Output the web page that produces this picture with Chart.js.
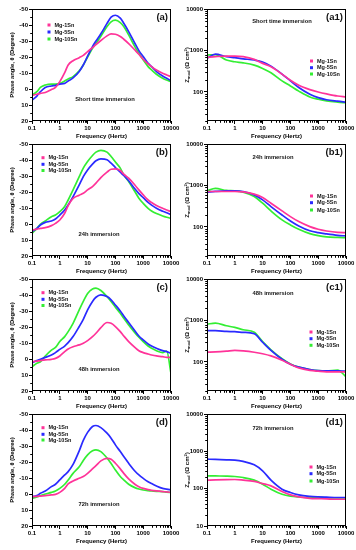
<!DOCTYPE html>
<html><head><meta charset="utf-8">
<script src="https://cdn.jsdelivr.net/npm/chart.js@4/dist/chart.umd.min.js"></script>
<style>
html,body{margin:0;padding:0;background:#fff;}
#wrap{position:relative;width:356px;height:550px;overflow:hidden;background:#fff;}
canvas{position:absolute;}
</style></head><body><div id="wrap"></div>
<script>
// ---------- DATA ----------
const seriesNames = ['Mg-1Sn', 'Mg-5Sn', 'Mg-10Sn'];
const freqPhase = [0.1,0.15,0.2,0.3,0.5,0.7,1,1.5,2,3,5,7,10,15,20,30,50,70,100,150,200,300,500,700,1000,1500,2000,3000,5000,7000,10000];
const freqZ = [0.1,0.2,0.5,1,2,5,10,20,50,100,200,500,1000,2000,5000,10000];
const xTickValues = [0.1, 1, 10, 100, 1000, 10000];
const phaseTickValues = [-50, -40, -30, -20, -10, 0, 10, 20];

// (a) short time
const phaseA_1Sn  = [4,3.3,2.7,2.2,0.3,-1,-4.6,-10.2,-15,-17.7,-19.6,-21,-23.4,-25.9,-27.8,-30.3,-33.2,-34.4,-34.2,-32.8,-31.1,-28.4,-24.4,-21.7,-18.6,-15.7,-14,-11.9,-9.8,-8.8,-7.7];
const phaseA_5Sn  = [7,4.4,1.7,-1,-1.9,-2.3,-3.1,-3.5,-5,-7,-11,-15,-20.5,-26.5,-30,-34.5,-41,-44.9,-46.1,-44.3,-41.1,-35.9,-28.6,-24,-20.3,-16,-14,-10.9,-8.1,-6.7,-5.2];
const phaseA_10Sn = [3.8,1.7,-1,-2.5,-3.1,-3.1,-3.5,-5,-6.3,-7.7,-11.3,-15,-20,-25.5,-28.5,-33,-39,-42,-43,-41.5,-39,-33.8,-26.5,-22.3,-18.2,-14,-11.9,-9.2,-6.7,-5.6,-4.6];
const zA_1Sn  = [680,710,735,735,710,610,490,405,270,192,145,114,100,90,80,76];
const zA_5Sn  = [645,820,710,670,630,590,530,420,270,185,128,88,73,65,60,57];
const zA_10Sn = [780,790,590,535,505,445,370,290,185,140,105,76,67,61,57,55];
// (b) 24 h
const phaseB_1Sn  = [3.8,3.2,2.7,2.3,1,-0.4,-2.5,-6.7,-11.5,-16,-18,-19.2,-21.3,-23.4,-25.5,-29,-32.4,-34.2,-34.4,-33.4,-31.1,-28.6,-24.4,-21.3,-18.2,-15,-13.4,-11.5,-9.8,-8.8,-7.7];
const phaseB_5Sn  = [4.8,2.7,0.6,-1,-1.9,-3.1,-5.6,-8.8,-11.9,-17.1,-24.4,-29.6,-33.8,-37.4,-39.5,-40.7,-40.1,-38,-35.3,-32.4,-30.3,-27,-22,-19,-16.5,-13.5,-11.8,-9.8,-8,-7,-5.8];
const phaseB_10Sn = [5.8,2.7,0.2,-1.9,-4.6,-5.6,-7.7,-10.9,-15,-21.3,-29.6,-34.9,-39,-42.8,-44.9,-46,-44.9,-42.2,-38.7,-34.9,-30.7,-26.5,-20.3,-16.1,-12.9,-9.8,-8.1,-6.5,-5,-4.2,-3.5];
const zB_1Sn  = [716,716,716,716,700,620,513,374,244,178,135,102,88,80,74,73];
const zB_5Sn  = [690,720,743,743,716,594,450,311,195,140,106,81,73,68,63,61];
const zB_10Sn = [740,850,760,743,690,542,374,244,148,112,88,69,62,58,56,55];
// (c) 48 h
const phaseC_1Sn  = [1.7,1.3,1,0.6,0.2,-0.4,-1.9,-4.6,-6.3,-7.7,-8.8,-9.8,-11.5,-14,-16.1,-19.6,-22.8,-22.3,-20.3,-17.1,-14.4,-10.9,-7.3,-5.2,-4,-3.1,-2.5,-1.9,-1.5,-1,-1];
const phaseC_5Sn  = [2.3,1,0.2,-1,-2.5,-4,-6,-8.1,-10.2,-14,-20.3,-24.8,-30.7,-36,-38.6,-40.1,-39,-37,-33.8,-30,-26.9,-22.8,-17.7,-14.4,-11.9,-9.4,-8.1,-6.7,-5.2,-4.6,-3.5];
const phaseC_10Sn = [4.8,2.7,1.7,-1.9,-5.6,-7.3,-10.9,-14,-17.1,-22.3,-30.7,-36,-41,-43.8,-44.3,-42.8,-39,-36,-32.4,-28.6,-25.5,-21.3,-16.5,-13.6,-10.9,-8.1,-6.7,-5.2,-4,-5,9];
const zC_1Sn  = [173,175,182,190,185,172,158,140,110,88,72,63,60,58,58,58];
const zC_5Sn  = [567,567,545,537,518,480,299,190,116,88,75,66,62,61,61,60];
const zC_10Sn = [818,860,746,681,600,520,310,197,120,90,75,66,62,61,64,44];
// (d) 72 h
const phaseD_1Sn  = [1.7,1.5,1.3,1,0.6,0.2,-1,-3.5,-6.3,-8.1,-9.8,-10.9,-12.9,-15.7,-17.7,-20.7,-22.3,-21.7,-19.2,-15.7,-12.9,-9.4,-6.1,-4.6,-3.5,-2.7,-2.3,-1.9,-1.5,-1.3,-1];
const phaseD_5Sn  = [1.7,1,-0.4,-1.9,-4.6,-6.1,-8.8,-11.9,-14,-18.5,-27,-33.5,-38.5,-42.2,-42.8,-41.5,-38,-34.9,-30.7,-26.5,-23.4,-19.2,-14.4,-11.9,-9.8,-7.7,-6.5,-5,-3.5,-3.1,-2.5];
const phaseD_10Sn = [2.7,1.8,1,0,-1,-1.9,-3.5,-6.1,-8.8,-12.9,-17,-21,-24.5,-27,-27.6,-26.5,-22.5,-19,-15,-10.9,-8.8,-6.1,-4,-3.1,-2.5,-2.1,-1.9,-1.7,-1.5,-1.2,-1];
const zD_1Sn  = [169,172,175,176,169,156,137,119,84,68,60,55,54,53,52,52];
const zD_5Sn  = [618,607,594,583,536,436,301,169,97,79,68,62,60,59,58,58];
const zD_10Sn = [221,219,217,212,199,169,132,97,71,63,60,58,58,57,57,57];

// ---------- STYLE / LAYOUT ----------
const COLORS = ['#ff3399', '#2a2aff', '#33ee33'];
const FONT = "'Liberation Sans', Arial, sans-serif";

const panels = [
  {kind:'phase', col:0, row:0, d:[phaseA_1Sn,phaseA_5Sn,phaseA_10Sn], label:'(a)',  note:'Short time immersion', nx:105, ny:99, lx:49, ly:[25,32,39]},
  {kind:'z',     col:1, row:0, d:[zA_1Sn,zA_5Sn,zA_10Sn], label:'(a1)', note:'Short time immersion', nx:107, ny:21, lx:136.5, ly:[61,67.7,74], zmin:20, zticks:[100,1000,10000]},
  {kind:'phase', col:0, row:1, d:[phaseB_1Sn,phaseB_5Sn,phaseB_10Sn], label:'(b)',  note:'24h immersion', nx:99, ny:99, lx:43, ly:[22.7,29.3,35.5]},
  {kind:'z',     col:1, row:1, d:[zB_1Sn,zB_5Sn,zB_10Sn], label:'(b1)', note:'24h immersion', nx:98, ny:22.3, lx:136.5, ly:[61,67.7,75], zmin:20, zticks:[100,1000,10000]},
  {kind:'phase', col:0, row:2, d:[phaseC_1Sn,phaseC_5Sn,phaseC_10Sn], label:'(c)',  note:'48h immersion', nx:99, ny:99.3, lx:43, ly:[22.7,29.3,35.5]},
  {kind:'z',     col:1, row:2, d:[zC_1Sn,zC_5Sn,zC_10Sn], label:'(c1)', note:'48h immersion', nx:98, ny:23.3, lx:136, ly:[62,68.7,75.3], zmin:20, zticks:[100,1000,10000]},
  {kind:'phase', col:0, row:3, d:[phaseD_1Sn,phaseD_5Sn,phaseD_10Sn], label:'(d)',  note:'72h immersion', nx:99, ny:99.7, lx:43, ly:[22.7,29.3,35]},
  {kind:'z',     col:1, row:3, d:[zD_1Sn,zD_5Sn,zD_10Sn], label:'(d1)', note:'72h immersion', nx:98, ny:23.3, lx:136, ly:[62,68.7,76], zmin:10, zticks:[10,100,1000,10000]}
];

const decor = {
  id: 'decor',
  afterDraw(chart) {
    const p = chart.options.plugins.decor;
    if (!p) return;
    const ctx = chart.ctx, a = chart.chartArea;
    const xs = chart.scales.x, ys = chart.scales.y;
    ctx.save();
    // frame
    ctx.strokeStyle = '#000'; ctx.lineWidth = 1;
    ctx.strokeRect(Math.round(a.left) + 0.5, Math.round(a.top) + 0.5, Math.round(a.right - a.left) - 1, Math.round(a.bottom - a.top) - 1);
    // minor ticks x
    ctx.beginPath();
    for (let e = -1; e < 4; e++) for (let m = 2; m <= 9; m++) {
      const px = Math.round(xs.getPixelForValue(m * Math.pow(10, e))) + 0.5;
      ctx.moveTo(px, a.bottom); ctx.lineTo(px, a.bottom + 1.8);
    }
    if (p.kind === 'phase') {
      for (let v = -45; v <= 15; v += 10) {
        const py = Math.round(ys.getPixelForValue(v)) + 0.5;
        ctx.moveTo(a.left, py); ctx.lineTo(a.left - 1.8, py);
      }
    } else {
      for (let e = 0; e < 4; e++) for (let m = 2; m <= 9; m++) {
        const v = m * Math.pow(10, e);
        if (v < ys.min || v > ys.max) continue;
        const py = Math.round(ys.getPixelForValue(v)) + 0.5;
        ctx.moveTo(a.left, py); ctx.lineTo(a.left - 1.8, py);
      }
    }
    ctx.stroke();
    // legend
    ctx.textBaseline = 'middle'; ctx.textAlign = 'left';
    ctx.font = `bold 5.5px ${FONT}`;
    seriesNames.forEach((n, i) => {
      ctx.fillStyle = COLORS[i];
      ctx.fillRect(p.lx - 1.5, p.ly[i] - 1.5, 3, 3);
      ctx.fillStyle = '#111';
      ctx.fillText(n, p.lx + 5.5, p.ly[i]);
    });
    // note
    ctx.textAlign = 'center';
    ctx.font = `bold 5.8px ${FONT}`;
    ctx.fillText(p.note, p.nx, p.ny);
    // panel label
    ctx.textAlign = 'right';
    ctx.font = `bold 9.5px ${FONT}`;
    ctx.fillText(p.label, a.right - 3, a.top + 8.5);
    // Z title
    if (p.kind === 'z') {
      ctx.translate(12.5, (a.top + a.bottom) / 2);
      ctx.rotate(-Math.PI / 2);
      const big = `bold 6px ${FONT}`, small = `bold 4.2px ${FONT}`;
      const parts = [['Z', big, 0], ['mod', small, 1.5], [' (\u03A9 cm', big, 0], ['2', small, -2], [')', big, 0]];
      let total = 0;
      parts.forEach(q => { ctx.font = q[1]; total += ctx.measureText(q[0]).width; });
      let x = -total / 2;
      ctx.textAlign = 'left';
      parts.forEach(q => { ctx.font = q[1]; ctx.fillText(q[0], x, q[2]); x += ctx.measureText(q[0]).width; });
    }
    ctx.restore();
  }
};

const tickFont = {size: 6, weight: 'bold', family: FONT};
const wrap = document.getElementById('wrap');

panels.forEach(p => {
  const cv = document.createElement('canvas');
  cv.width = 180; cv.height = 145;
  cv.style.left = (p.col === 0 ? 0 : 175) + 'px';
  cv.style.top = (p.row * 135) + 'px';
  cv.style.width = '180px'; cv.style.height = '145px';
  wrap.appendChild(cv);
  const freqs = p.kind === 'phase' ? freqPhase : freqZ;
  const datasets = p.d.map((arr, i) => ({
    label: seriesNames[i],
    data: freqs.map((f, j) => ({x: f, y: arr[j]})),
    borderColor: COLORS[i], backgroundColor: COLORS[i],
    borderWidth: 1.7, pointRadius: 0, fill: false,
    cubicInterpolationMode: 'monotone'
  }));
  const gridOpt = {drawOnChartArea: false, drawTicks: true, tickLength: 3, color: '#000', lineWidth: 1};
  const yScale = p.kind === 'phase' ? {
    type: 'linear', min: -50, max: 20, reverse: true,
    afterBuildTicks: s => { s.ticks = phaseTickValues.map(v => ({value: v})); },
    afterFit: s => { s.width = 32; },
    ticks: {font: tickFont, color: '#000', padding: 1, callback: v => String(v)},
    grid: gridOpt, border: {display: false},
    title: {display: true, text: 'Phase angle, \u03B8 (Degree)', color: '#000', font: {size: 5.8, weight: 'bold', family: FONT}, padding: {top: 9, bottom: 0}}
  } : {
    type: 'logarithmic', min: p.zmin, max: 10000,
    afterBuildTicks: s => { s.ticks = p.zticks.map(v => ({value: v})); },
    afterFit: s => { s.width = 32; },
    ticks: {font: tickFont, color: '#000', padding: 1, callback: v => String(v)},
    grid: gridOpt, border: {display: false},
    title: {display: false}
  };
  new Chart(cv, {
    type: 'line',
    data: {datasets},
    options: {
      responsive: false, animation: false, devicePixelRatio: 1,
      layout: {padding: {left: 0, right: 9, top: 9, bottom: 0}},
      scales: {
        x: {
          type: 'logarithmic', min: 0.1, max: 10000,
          afterBuildTicks: s => { s.ticks = xTickValues.map(v => ({value: v})); },
          afterFit: s => { s.height = 24; },
          ticks: {font: tickFont, color: '#000', padding: 0.5, maxRotation: 0, autoSkip: false, callback: v => (v < 1 ? '0.1' : String(v))},
          grid: gridOpt, border: {display: false},
          title: {display: true, text: 'Frequency (Hertz)', color: '#000', font: {size: 6, weight: 'bold', family: FONT}, padding: {top: 0, bottom: 4.9}}
        },
        y: yScale
      },
      plugins: {
        legend: {display: false}, tooltip: {enabled: false},
        decor: p
      }
    },
    plugins: [decor]
  });
});
</script>
</body></html>
